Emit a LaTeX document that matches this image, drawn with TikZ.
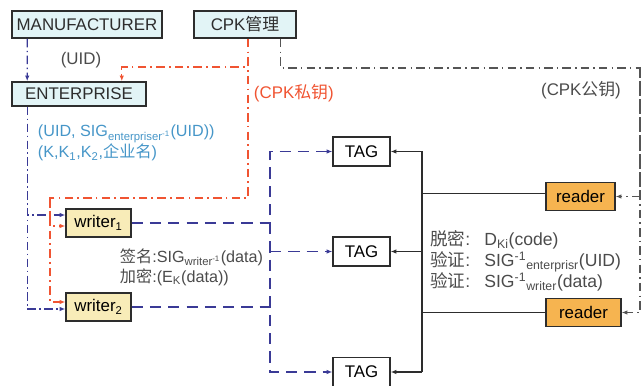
\documentclass[tikz,border=0pt]{standalone}
\usepackage{fontspec}
\setmainfont{Liberation Sans}
\newfontfamily\cjk{Noto Sans CJK SC}
\usetikzlibrary{arrows.meta,calc}
\definecolor{rfidcyan}{RGB}{226,244,246}
\definecolor{rfidcream}{RGB}{248,236,184}
\definecolor{rfidorange}{RGB}{246,180,80}
\definecolor{rfidnavy}{RGB}{58,58,150}
\definecolor{rfidred}{RGB}{240,84,50}
\definecolor{rfidgray}{RGB}{85,85,85}
\definecolor{rfidteal}{RGB}{70,150,200}
\definecolor{rfidink}{RGB}{45,45,45}
\definecolor{rfidtext}{RGB}{75,75,75}

\begin{document}
\begin{tikzpicture}[x=0.025cm,y=-0.025cm,
  font=\fontsize{12}{14}\selectfont, >={Latex[length=4pt,width=3.2pt]},
  party/.style={draw=rfidink,line width=1.1pt,fill=rfidcyan,minimum height=.68cm,inner sep=1pt,text=rfidink},
  writerbox/.style={draw=rfidink,line width=1.1pt,fill=rfidcream,minimum width=1.62cm,minimum height=.7cm,inner sep=1pt},
  readerbox/.style={draw=rfidink,line width=1.1pt,fill=rfidorange,minimum height=.7cm,inner sep=1pt},
  tagbox/.style={draw=rfidink,line width=1.1pt,fill=white,minimum width=1.42cm,minimum height=.72cm,inner sep=1pt},
  keyflow/.style={->,draw=rfidnavy,line width=.9pt,dash pattern=on 6pt off 2.5pt on 1pt off 2.5pt},
  privflow/.style={->,draw=rfidred,line width=.9pt,dash pattern=on 6pt off 3pt on 1.2pt off 3pt},
  pubflow/.style={->,draw=rfidgray,line width=.8pt,dash pattern=on 6pt off 3pt on 1pt off 3pt},
  dataflow/.style={->,draw=rfidnavy,line width=1.2pt,dash pattern=on 8pt off 5pt},
  readflow/.style={->,draw=rfidink,line width=.8pt},
  note/.style={font=\fontsize{11.5}{14}\selectfont,text=rfidtext,align=left}
]
\useasboundingbox (0,0) rectangle (644,386);

\node[party,minimum width=3.75cm] (manu) at (87,24.5) {MANUFACTURER};
\node[party,minimum width=2.55cm] (cpk) at (245,24.5) {CPK{\cjk 管理}};
\node[party,minimum width=3.35cm,minimum height=.6cm] (ent) at (79,94) {ENTERPRISE};

\node[writerbox] (w1) at (98.5,223) {writer\textsubscript{1}};
\node[writerbox] (w2) at (98.5,307) {writer\textsubscript{2}};

\node[tagbox] (t1) at (361.5,151.5) {TAG};
\node[tagbox] (t2) at (361.5,251.5) {TAG};
\node[tagbox] (t3) at (361.5,372) {TAG};

\node[readerbox,minimum width=1.72cm] (r1) at (580.5,196.5) {reader};
\node[readerbox,minimum width=1.87cm] (r2) at (583.5,312.5) {reader};

\node[text=rfidtext] (uidlbl) at (81,60) {(UID)};
\node[note,anchor=west,text=rfidteal] (entkeys) at (33,143)
 {(UID, SIG\textsubscript{enterpriser\textsuperscript{-1}}(UID))\\
  (K,K\textsubscript{1},K\textsubscript{2},{\cjk 企业名})};
\node[anchor=west,text=rfidred] (privlbl) at (249,93) {(CPK{\cjk 私钥})};
\node[text=rfidtext] (publbl) at (581,90) {(CPK{\cjk 公钥})};
\node[note,anchor=west] (wlbl) at (115,267)
 {{\cjk 签名}:SIG\textsubscript{writer\textsuperscript{-1}}(data)\\
  {\cjk 加密}:(E\textsubscript{K}(data))};
\node[note,font=\fontsize{12.5}{15}\selectfont,anchor=west,inner sep=0pt] (rlbl) at (430,262)
 {\begin{tabular}{@{}l@{\hspace{10pt}}l@{}}
  {\cjk 脱密}: & D\textsubscript{Ki}(code)\\[0pt]
  {\cjk 验证}: & SIG\textsuperscript{-1}\textsubscript{enterprisr}(UID)\\[0pt]
  {\cjk 验证}: & SIG\textsuperscript{-1}\textsubscript{writer}(data)
  \end{tabular}};

\coordinate (keybus) at ($(ent.south west)+(16,0)$);
\draw[keyflow] ($(manu.south west)+(16,0)$) -- ($(ent.north west)+(16,0)$);
\draw[keyflow] (keybus) |- ($(w2.west)+(0,2)$);
\draw[keyflow] (keybus) |- ($(w1.west)+(0,-8)$);

\coordinate (privbend) at (50,198);
\draw[privflow] ($(cpk.south)+(3,0)$) -- ++(0,28) -| ($(ent.north east)+(-25,0)$);
\draw[privflow] ($(cpk.south)+(3,0)$) |- (privbend) |- ($(w2.west)+(0,-5)$);
\draw[privflow] (privbend) |- ($(w1.west)+(0,3)$);

\coordinate (pubcorner) at (640,68);
\draw[pubflow] ($(cpk.south east)+(-16,0)$) |- (pubcorner) |- (r2.east);
\draw[pubflow] (pubcorner) |- (r1.east);

\coordinate (wbus) at (270,0);
\draw[dataflow] (w1.east) -- (w1.east -| wbus) |- (t1.west);
\draw[dataflow] (w2.east) -- (w2.east -| wbus) |- (t3.west);
\draw[dataflow,-] (w1.east -| wbus) -- (w2.east -| wbus);
\draw[dataflow] (t2.west -| wbus) -- (t2.west);

\coordinate (rbus) at (422,0);
\coordinate (r1in) at ($(r1.west)+(0,-3)$);
\draw[readflow,-] (rbus |- t1.east) -- (rbus |- t3.east);
\draw[readflow] (rbus |- t1.east) -- (t1.east);
\draw[readflow] (rbus |- t2.east) -- (t2.east);
\draw[readflow] (rbus |- t3.east) -- (t3.east);
\draw[readflow,-] (r1in) -- (r1in -| rbus);
\draw[readflow,-] (r2.west) -- (r2.west -| rbus);
\end{tikzpicture}
\end{document}
